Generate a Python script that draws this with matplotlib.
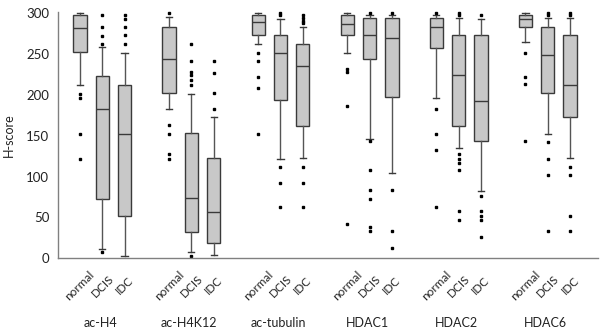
import numpy as np
import matplotlib
matplotlib.use("Agg")
import matplotlib.pyplot as plt

plt.rcParams['font.family'] = ['Lato', 'DejaVu Sans']

markers = ["ac-H4", "ac-H4K12", "ac-tubulin", "HDAC1", "HDAC2", "HDAC6"]
tissues = ["normal", "DCIS", "IDC"]

# per marker: [normal, DCIS, IDC]
medians = [[282, 183, 152], [244, 74, 56], [290, 252, 235],
           [287, 274, 270], [283, 224, 193], [293, 249, 212]]
q1 = [[253, 73, 52], [203, 32, 18], [273, 194, 162],
      [273, 244, 198], [258, 162, 143], [283, 203, 173]]
q3 = [[298, 223, 212], [283, 153, 123], [298, 273, 263],
      [298, 294, 294], [294, 273, 273], [298, 283, 273]]
whis_lo = [[212, 11, 3], [183, 7, 4], [263, 122, 123],
           [252, 146, 104], [196, 135, 82], [265, 152, 123]]
whis_hi = [[300, 259, 252], [296, 201, 173], [300, 293, 284],
           [300, 298, 298], [298, 294, 293], [300, 294, 294]]
fliers = [
    [[201, 196, 152, 122], [298, 284, 272, 262, 7], [298, 293, 284, 274, 263]],
    [[300, 163, 152, 127, 122], [263, 242, 228, 224, 219, 212, 3], [242, 227, 202, 183]],
    [[252, 242, 222, 208, 152], [300, 298, 112, 92, 62], [298, 294, 291, 288, 112, 92, 62]],
    [[232, 228, 187, 42], [300, 143, 108, 83, 72, 38, 33], [300, 83, 33, 12]],
    [[300, 183, 152, 133, 62], [300, 298, 128, 122, 117, 108, 58, 47], [298, 76, 58, 52, 47, 26]],
    [[252, 222, 213, 143], [300, 298, 142, 122, 102, 33], [300, 298, 112, 102, 52, 33]],
]

stats = []
positions = []
for i in range(len(markers)):
    for j in range(len(tissues)):
        stats.append(dict(med=medians[i][j], q1=q1[i][j], q3=q3[i][j],
                          whislo=whis_lo[i][j], whishi=whis_hi[i][j],
                          fliers=fliers[i][j]))
        positions.append(4 * i + j + 1)

fig = plt.figure(figsize=(6.04, 3.34), dpi=100)
ax = fig.add_axes([0.0952, 0.2275, 0.895, 0.737])

edge = "#3a3a3a"
ax.bxp(stats, positions=positions, widths=0.6, patch_artist=True,
       boxprops=dict(facecolor="#c8c8c8", edgecolor=edge, linewidth=1.0),
       medianprops=dict(color=edge, linewidth=1.0),
       whiskerprops=dict(color="#555555", linewidth=1.0),
       capprops=dict(color=edge, linewidth=1.0),
       capwidths=0.28,
       flierprops=dict(marker="s", markersize=1.7, markerfacecolor="black",
                       markeredgecolor="black", linestyle="none", clip_on=False))

ax.set_ylim(0, 302)
ax.set_xlim(-0.01, 24.26)
ax.set_yticks(np.arange(0, 301, 50))
ax.tick_params(axis="y", length=0, pad=6, labelsize=9.5, labelcolor="#222222")
ax.set_xticks(positions)
ax.set_xticklabels(tissues * len(markers), rotation=45, ha="center", va="center")
ax.tick_params(axis="x", length=0, pad=20, labelsize=8.5, labelcolor="#222222")

for s in ["top", "right"]:
    ax.spines[s].set_visible(False)
for s in ["left", "bottom"]:
    ax.spines[s].set_color("#808080")
    ax.spines[s].set_linewidth(1.0)

ax.set_ylabel("H-score", fontsize=9, color="#222222", labelpad=8)

for i, m in enumerate(markers):
    ax.text(4 * i + 2 - 0.1, -0.265, m, transform=ax.get_xaxis_transform(),
            ha="center", va="center", fontsize=9, color="#222222")

fig.savefig("out.png", dpi=100)
